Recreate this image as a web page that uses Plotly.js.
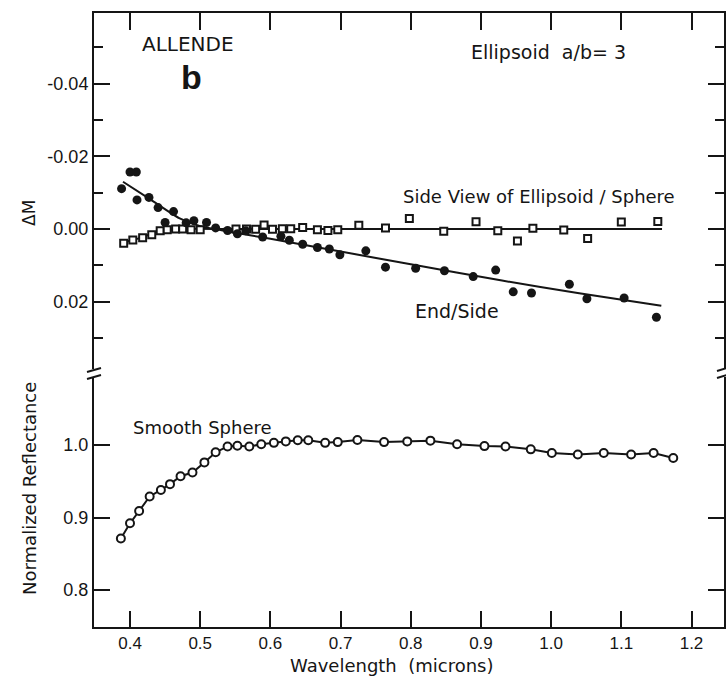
<!DOCTYPE html>
<html>
<head>
<meta charset="utf-8">
<script src="https://cdn.plot.ly/plotly-3.0.1.min.js"></script>
<style>
  html, body { margin: 0; padding: 0; background: #fff; }
  #chart { width: 726px; height: 677px; }
</style>
</head>
<body>
<div id="chart"></div>
<script>
// Allende, ellipsoid a/b = 3: magnitude differences (upper panel)
// and normalized reflectance of the smooth sphere (lower panel).

// End/Side ratio, delta M (filled circles)
const endWl = [0.388, 0.400, 0.409, 0.410, 0.427, 0.440, 0.450, 0.462, 0.480, 0.491,
               0.509, 0.522, 0.539, 0.553, 0.565, 0.589, 0.615, 0.627, 0.646, 0.667,
               0.684, 0.699, 0.736, 0.764, 0.807, 0.848, 0.889, 0.921, 0.946, 0.972,
               1.026, 1.051, 1.104, 1.150];
const endDM = [-0.0111, -0.0157, -0.0157, -0.0080, -0.0087, -0.0059, -0.0018, -0.0048, -0.0017, -0.0023,
               -0.0018, -0.0003, 0.0004, 0.0013, 0.0005, 0.0022, 0.0020, 0.0031, 0.0042, 0.0051,
               0.0055, 0.0071, 0.0060, 0.0105, 0.0108, 0.0115, 0.0131, 0.0113, 0.0173, 0.0176,
               0.0152, 0.0192, 0.0190, 0.0243];

// Side view of ellipsoid / sphere, delta M (open squares)
const sideWl = [0.391, 0.404, 0.418, 0.431, 0.443, 0.453, 0.465, 0.475, 0.487, 0.500,
                0.551, 0.566, 0.579, 0.591, 0.603, 0.617, 0.629, 0.646, 0.667, 0.682,
                0.696, 0.726, 0.764, 0.798, 0.847, 0.893, 0.924, 0.952, 0.974, 1.018,
                1.052, 1.100, 1.152];
const sideDM = [0.0039, 0.0030, 0.0024, 0.0016, 0.0005, 0.0002, 0.0000, 0.0000, 0.0002, 0.0002,
                0.0000, 0.0000, 0.0001, -0.0011, 0.0001, -0.0001, -0.0001, -0.0004, 0.0002, 0.0004,
                0.0002, -0.0010, -0.0003, -0.0029, 0.0006, -0.0020, 0.0005, 0.0033, -0.0002, 0.0003,
                0.0026, -0.0019, -0.0021];

// Smooth curves drawn through each delta M set
const endFitWl  = [0.390, 0.430, 0.470, 0.500, 0.540, 0.600, 0.700, 0.800, 0.930, 1.040, 1.157];
const endFitDM  = [-0.0130, -0.0080, -0.0030, -0.0008, 0.0007, 0.0027, 0.0062, 0.0097, 0.0142, 0.0177, 0.0211];
const sideFitWl = [0.390, 0.410, 0.430, 0.450, 0.470, 0.550, 1.158];
const sideFitDM = [0.0038, 0.0027, 0.0014, 0.0004, 0.0000, 0.0000, 0.0000];

// Smooth sphere, normalized reflectance (open circles)
const sphWl = [0.387, 0.400, 0.413, 0.428, 0.444, 0.457, 0.472, 0.489, 0.506, 0.522,
               0.539, 0.553, 0.570, 0.587, 0.605, 0.622, 0.639, 0.654, 0.678, 0.696,
               0.724, 0.762, 0.795, 0.828, 0.866, 0.905, 0.935, 0.971, 1.001, 1.038,
               1.075, 1.114, 1.146, 1.174];
const sphR  = [0.871, 0.892, 0.909, 0.929, 0.938, 0.946, 0.957, 0.962, 0.976, 0.990,
               0.998, 0.999, 0.998, 1.001, 1.003, 1.005, 1.0066, 1.0065, 1.003, 1.004,
               1.007, 1.004, 1.005, 1.006, 1.001, 0.9985, 0.998, 0.994, 0.989, 0.987,
               0.989, 0.987, 0.989, 0.982];

// Tick values and labels
const xTicks = [0.4, 0.5, 0.6, 0.7, 0.8, 0.9, 1.0, 1.1, 1.2];
const xTickText = ['0.4', '0.5', '0.6', '0.7', '0.8', '0.9', '1.0', '1.1', '1.2'];
const dmTicks = [-0.04, -0.02, 0.00, 0.02];
const dmTickText = ['-0.04', '-0.02', '0.00', '0.02'];
const dmMinor = [-0.05, -0.03, -0.01, 0.01, 0.03];
const rTicks = [0.8, 0.9, 1.0];
const rTickText = ['0.8', '0.9', '1.0'];

const INK = '#151515';
const TICKFONT = 'Liberation Sans, Arial, sans-serif';
const LABELFONT = 'DejaVu Sans, Verdana, sans-serif';

// frame geometry in pixels -> paper fractions
const L = 94, R = 724, T = 13, B = 627;
const px = v => (v - L) / (R - L);
const py = v => (B - v) / (B - T);

const traces = [
  { x: endFitWl, y: endFitDM, xaxis: 'x2', yaxis: 'y', mode: 'lines',
    line: { color: INK, width: 2, shape: 'spline', smoothing: 0.6 }, hoverinfo: 'skip' },
  { x: sideFitWl, y: sideFitDM, xaxis: 'x2', yaxis: 'y', mode: 'lines',
    line: { color: INK, width: 2, shape: 'spline', smoothing: 0.6 }, hoverinfo: 'skip' },
  { x: sideWl, y: sideDM, xaxis: 'x2', yaxis: 'y', mode: 'markers',
    marker: { symbol: 'square', size: 7, color: '#fff', line: { color: INK, width: 2 } } },
  { x: endWl, y: endDM, xaxis: 'x2', yaxis: 'y', mode: 'markers',
    marker: { symbol: 'circle', size: 9, color: INK, line: { width: 0 } } },
  { x: sphWl, y: sphR, xaxis: 'x', yaxis: 'y2', mode: 'lines+markers',
    line: { color: INK, width: 2 },
    marker: { symbol: 'circle', size: 8, color: '#fff', line: { color: INK, width: 2 } } }
];

const axisBase = {
  showgrid: false, zeroline: false, showline: true,
  linecolor: INK, linewidth: 2, ticks: 'inside', tickcolor: INK, tickwidth: 2,
  tickfont: { family: TICKFONT, size: 17, color: INK }
};

const xRange = [0.3487, 1.2463];
const dmRange = [0.03853, -0.05945];
const rRange = [0.749, 1.0938];

function label(xref, yref, x, y, text, size, extra) {
  return Object.assign({
    xref: xref, yref: yref, x: x, y: y, text: text, showarrow: false,
    xanchor: 'center', yanchor: 'middle',
    font: { family: LABELFONT, size: size, color: INK }
  }, extra || {});
}

const layout = {
  width: 726, height: 677,
  margin: { l: L, r: 726 - R, t: T, b: 677 - B },
  paper_bgcolor: '#fff', plot_bgcolor: 'rgba(0,0,0,0)',
  showlegend: false,
  font: { family: LABELFONT, color: INK },
  xaxis: Object.assign({}, axisBase, {
    domain: [0, 1], anchor: 'y2', range: xRange,
    tickmode: 'array', tickvals: xTicks, ticktext: xTickText, ticklen: 16
  }),
  xaxis2: Object.assign({}, axisBase, {
    domain: [0, 1], anchor: 'y', side: 'top', range: xRange,
    tickmode: 'array', tickvals: xTicks, ticklen: 17, showticklabels: false
  }),
  yaxis: Object.assign({}, axisBase, {
    domain: [py(369), 1], anchor: 'x2', range: dmRange, mirror: 'ticks',
    tickfont: { family: TICKFONT, size: 18, color: INK },
    tickmode: 'array', tickvals: dmTicks, ticktext: dmTickText, ticklen: 16,
    minor: { tickmode: 'array', tickvals: dmMinor, ticks: 'inside', ticklen: 9, tickwidth: 2, tickcolor: INK }
  }),
  yaxis2: Object.assign({}, axisBase, {
    domain: [0, py(377)], anchor: 'x', range: rRange, mirror: 'ticks',
    tickfont: { family: TICKFONT, size: 18, color: INK },
    tickmode: 'array', tickvals: rTicks, ticktext: rTickText, ticklen: 16
  }),
  annotations: [
    label('x2', 'y', 0.482, -0.0508, 'ALLENDE', 20),
    label('x2', 'y', 0.488, -0.0417, '<b>b</b>', 34, { font: { family: TICKFONT, size: 34, color: INK } }),
    label('x2', 'y', 0.996, -0.0486, 'Ellipsoid  a/b= 3', 19),
    label('x2', 'y', 0.983, -0.0089, 'Side View of Ellipsoid / Sphere', 18),
    label('x2', 'y', 0.866, 0.0225, 'End/Side', 19),
    label('x', 'y2', 0.503, 1.0248, 'Smooth Sphere', 18),
    label('paper', 'paper', px(392), py(665), 'Wavelength  (microns)', 18),
    label('paper', 'paper', px(29), py(213), 'ΔM', 17, { textangle: -90 }),
    label('paper', 'paper', px(29), py(489), 'Normalized Reflectance', 18, { textangle: -90 })
  ],
  shapes: [
    // axis break marks, left and right
    { type: 'line', xref: 'paper', yref: 'paper', x0: px(87), y0: py(372), x1: px(101), y1: py(368),
      line: { color: INK, width: 2 } },
    { type: 'line', xref: 'paper', yref: 'paper', x0: px(87), y0: py(379), x1: px(101), y1: py(375),
      line: { color: INK, width: 2 } },
    { type: 'line', xref: 'paper', yref: 'paper', x0: px(717), y0: py(371), x1: px(727), y1: py(368),
      line: { color: INK, width: 2 } },
    { type: 'line', xref: 'paper', yref: 'paper', x0: px(717), y0: py(378), x1: px(727), y1: py(375),
      line: { color: INK, width: 2 } }
  ]
};

Plotly.newPlot('chart', traces, layout, { staticPlot: true, displayModeBar: false });
</script>
</body>
</html>
